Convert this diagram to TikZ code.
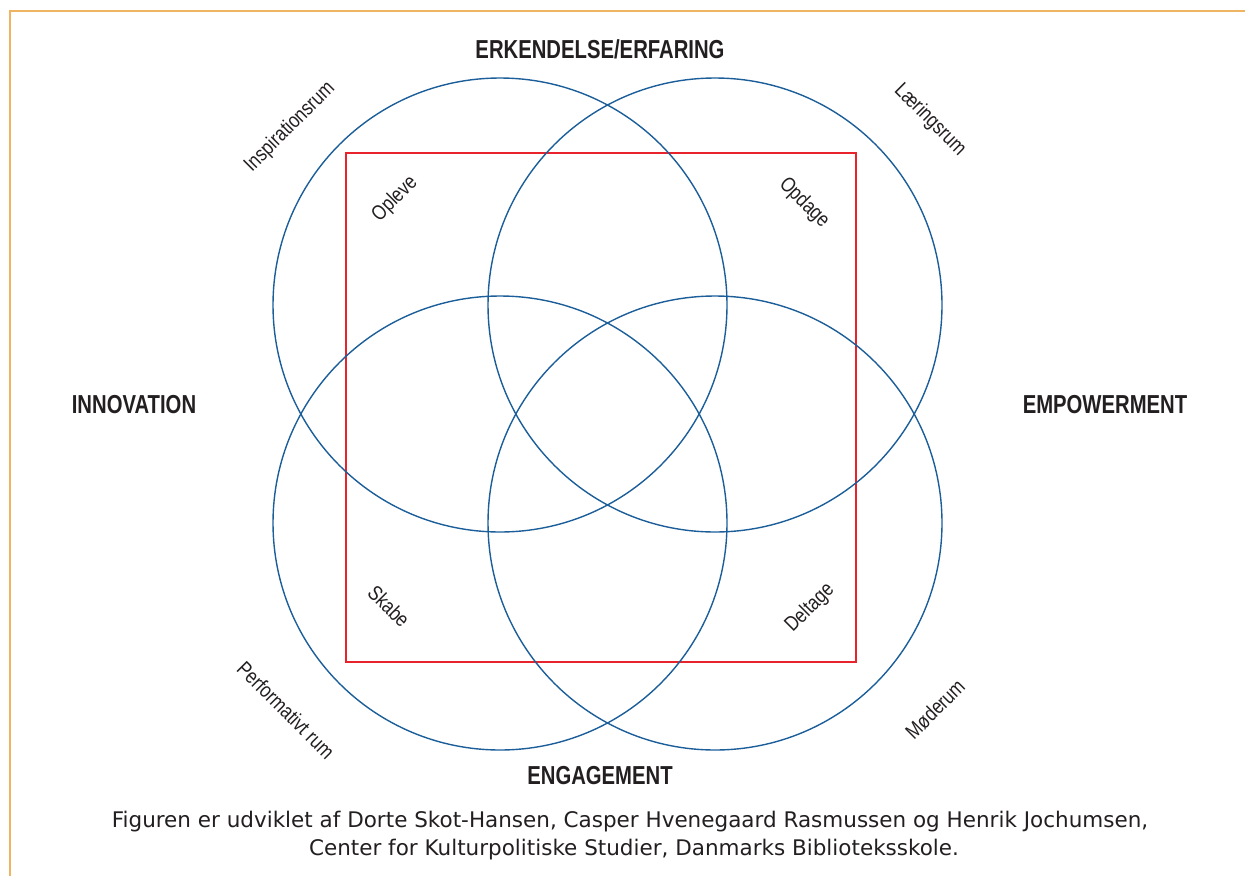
\documentclass[tikz,border=0pt]{standalone}
\usepackage{fontspec}
\setmainfont{DejaVu Sans}
\newfontfamily\condfont[FakeStretch=0.82]{Liberation Sans}
\newfontfamily\condbold[FakeStretch=0.78]{Liberation Sans Bold}
\definecolor{circblue}{HTML}{1B5E99}
\definecolor{rectred}{HTML}{E8232B}
\definecolor{frameorange}{HTML}{EFB462}
\definecolor{txt}{HTML}{231F20}
\tikzset{
  circ/.style={draw=circblue, line width=1.4pt},
  redbox/.style={draw=rectred, line width=1.3pt},
  dimlabel/.style={text=txt, font=\condbold\fontsize{26}{30}\selectfont, inner sep=0pt},
  spacelabel/.style={text=txt, font=\condfont\fontsize{21}{24}\selectfont, inner sep=0pt},
  captext/.style={text=txt, font=\fontsize{21.5}{24}\selectfont, inner sep=0pt}
}
\begin{document}
\begin{tikzpicture}[x=1pt,y=-1pt]
\useasboundingbox (0,0) rectangle (1245,876);
% frame
\draw[frameorange, line width=1.5pt] (1245,11) -- (10,11) -- (10,876);
% square
\draw[redbox] (346,153) rectangle (856,662);
% circles
\node[circ, circle, minimum size=454pt, inner sep=0pt] (tl) at (500,305) {};
\node[circ, circle, minimum size=454pt, inner sep=0pt] (tr) at (715,305) {};
\node[circ, circle, minimum size=454pt, inner sep=0pt] (bl) at (500,523) {};
\node[circ, circle, minimum size=454pt, inner sep=0pt] (br) at (715,523) {};
% dimension labels
\node[dimlabel, anchor=base] (erk) at (600,58) {ERKENDELSE/ERFARING};
\node[dimlabel, anchor=base] (inn) at (134,413) {INNOVATION};
\node[dimlabel, anchor=base] (emp) at (1105,413) {EMPOWERMENT};
\node[dimlabel, anchor=base] (eng) at (600,784) {ENGAGEMENT};
% space labels
\node[spacelabel, rotate=45] (insp) at (290,127) {Inspirationsrum};
\node[spacelabel, rotate=-45] (laer) at (930,120) {Læringsrum};
\node[spacelabel, rotate=-45] (perf) at (286,710) {Performativt rum};
\node[spacelabel, rotate=45] (moed) at (935,709) {Møderum};
% activity labels
\node[spacelabel, rotate=45] (opl) at (395,199) {Opleve};
\node[spacelabel, rotate=-45] (opd) at (804,203) {Opdage};
\node[spacelabel, rotate=-45] (skb) at (389,606) {Skabe};
\node[spacelabel, rotate=45] (dlt) at (810,608) {Deltage};
% caption
\node[captext, anchor=base] (cap1) at (630,827) {Figuren er udviklet af Dorte Skot-Hansen, Casper Hvenegaard Rasmussen og Henrik Jochumsen,};
\node[captext, anchor=base] (cap2) at (634,855) {Center for Kulturpolitiske Studier, Danmarks Biblioteksskole.};
\end{tikzpicture}
\end{document}
